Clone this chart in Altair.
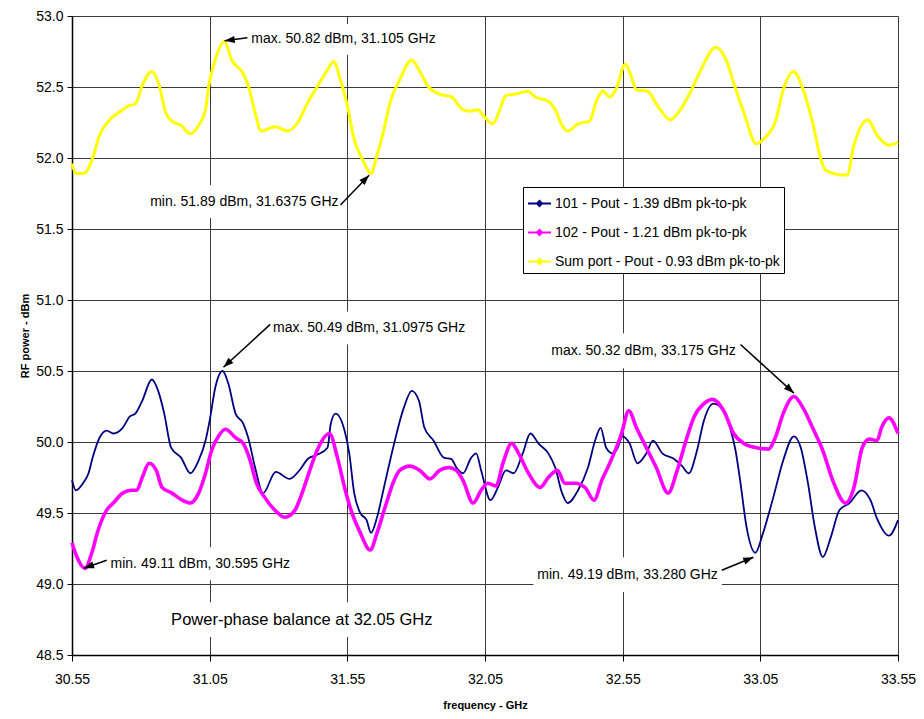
import math
import altair as alt
import pandas as pd

S1 = "101 - Pout - 1.39 dBm pk-to-pk"
S2 = "102 - Pout - 1.21 dBm pk-to-pk"
S3 = "Sum port - Pout - 0.93 dBm pk-to-pk"

# ---- series data ----
f101 = [30.55, 30.564, 30.59, 30.61, 30.625, 30.65, 30.676, 30.70, 30.734, 30.76, 30.78, 30.805, 30.84,
        30.863, 30.885, 30.91, 30.946, 30.98, 31.01, 31.035, 31.05, 31.07, 31.097, 31.118, 31.144, 31.172,
        31.19, 31.215, 31.244, 31.29, 31.34, 31.38, 31.406, 31.44, 31.478, 31.49, 31.507, 31.54, 31.557,
        31.575, 31.597, 31.62, 31.636, 31.658, 31.683, 31.72, 31.755, 31.784, 31.81, 31.83, 31.863, 31.90,
        31.928, 31.946, 31.97, 32.0, 32.018, 32.036, 32.07, 32.097, 32.126, 32.154, 32.187, 32.215, 32.244,
        32.28, 32.305, 32.33, 32.35, 32.388, 32.424, 32.45, 32.47, 32.49, 32.514, 32.53, 32.55, 32.575,
        32.604, 32.636, 32.66, 32.694, 32.737, 32.766, 32.79, 32.82, 32.845, 32.88, 32.917, 32.94, 32.96,
        32.978, 33.0, 33.032, 33.06, 33.097, 33.133, 33.172, 33.197, 33.223, 33.248, 33.277, 33.306, 33.337,
        33.374, 33.417, 33.45, 33.474, 33.517, 33.55]
p101 = [49.73, 49.66, 49.71, 49.78, 49.89, 50.03, 50.08, 50.06, 50.10, 50.18, 50.20, 50.29, 50.44,
        50.36, 50.20, 49.96, 49.89, 49.78, 49.87, 50.01, 50.15, 50.38, 50.50, 50.41, 50.20, 50.13,
        50.03, 49.82, 49.64, 49.79, 49.74, 49.81, 49.88, 49.91, 49.96, 50.13, 50.20, 50.08, 49.92,
        49.64, 49.50, 49.45, 49.36, 49.47, 49.68, 49.99, 50.24, 50.36, 50.29, 50.10, 50.01, 49.89,
        49.88, 49.82, 49.78, 49.89, 49.92, 49.80, 49.59, 49.68, 49.80, 49.78, 49.92, 50.06, 49.99,
        49.92, 49.82, 49.64, 49.57, 49.66, 49.82, 50.01, 50.10, 49.96, 49.92, 49.95, 50.04, 49.99,
        49.85, 49.92, 50.01, 49.92, 49.88, 49.83, 49.78, 49.94, 50.15, 50.27, 50.22, 50.10, 49.94,
        49.71, 49.40, 49.22, 49.36, 49.61, 49.87, 50.04, 49.96, 49.71, 49.40, 49.19, 49.33, 49.52,
        49.57, 49.66, 49.59, 49.46, 49.34, 49.45]

f102 = [30.55, 30.568, 30.597, 30.622, 30.645, 30.676, 30.70, 30.734, 30.766, 30.785, 30.805, 30.83,
        30.856, 30.877, 30.913, 30.95, 30.98, 31.01, 31.035, 31.057, 31.082, 31.107, 31.144, 31.172,
        31.197, 31.22, 31.25, 31.287, 31.323, 31.36, 31.38, 31.417, 31.44, 31.485, 31.514, 31.54, 31.56,
        31.597, 31.633, 31.658, 31.687, 31.72, 31.74, 31.777, 31.813, 31.85, 31.885, 31.917, 31.946,
        31.97, 32.007, 32.036, 32.06, 32.09, 32.115, 32.147, 32.172, 32.208, 32.25, 32.28, 32.313, 32.34,
        32.377, 32.413, 32.446, 32.474, 32.503, 32.546, 32.572, 32.60, 32.636, 32.672, 32.715, 32.748,
        32.78, 32.81, 32.845, 32.877, 32.917, 32.953, 32.99, 33.036, 33.08, 33.104, 33.133, 33.172,
        33.205, 33.24, 33.277, 33.313, 33.36, 33.39, 33.42, 33.446, 33.474, 33.49, 33.517, 33.55]
p102 = [49.29, 49.19, 49.11, 49.22, 49.38, 49.52, 49.57, 49.64, 49.66, 49.66, 49.75, 49.85,
        49.80, 49.68, 49.64, 49.59, 49.57, 49.64, 49.78, 49.94, 50.04, 50.09, 50.03, 49.99,
        49.87, 49.71, 49.61, 49.52, 49.47, 49.52, 49.61, 49.82, 49.94, 50.06, 49.89, 49.68, 49.54,
        49.36, 49.24, 49.36, 49.54, 49.73, 49.80, 49.83, 49.80, 49.74, 49.80, 49.82, 49.80,
        49.73, 49.57, 49.66, 49.71, 49.69, 49.85, 49.99, 49.92, 49.78, 49.68, 49.75, 49.80, 49.71,
        49.71, 49.68, 49.59, 49.73, 49.85, 50.06, 50.22, 50.10, 49.96, 49.82, 49.64, 49.80,
        50.01, 50.18, 50.27, 50.30, 50.22, 50.06, 49.99, 49.96, 49.95, 50.03, 50.20, 50.32,
        50.24, 50.10, 49.94, 49.73, 49.57, 49.68, 49.96, 50.02, 50.01, 50.10, 50.17, 50.06]

fsum = [30.55, 30.565, 30.585, 30.60, 30.625, 30.65, 30.687, 30.72, 30.76, 30.78, 30.805, 30.84, 30.867,
        30.89, 30.913, 30.946, 30.98, 31.01, 31.035, 31.046, 31.07, 31.104, 31.13, 31.17, 31.19, 31.215,
        31.237, 31.287, 31.334, 31.37, 31.406, 31.44, 31.478, 31.50, 31.525, 31.55, 31.575, 31.597,
        31.615, 31.635, 31.658, 31.683, 31.705, 31.74, 31.784, 31.81, 31.845, 31.885, 31.928, 31.97,
        31.993, 32.025, 32.043, 32.079, 32.10, 32.126, 32.16, 32.205, 32.233, 32.28, 32.305, 32.33,
        32.35, 32.388, 32.43, 32.456, 32.478, 32.503, 32.525, 32.56, 32.58, 32.60, 32.64, 32.676,
        32.723, 32.76, 32.80, 32.834, 32.888, 32.928, 32.953, 32.99, 33.036, 33.07, 33.104, 33.133,
        33.172, 33.20, 33.24, 33.27, 33.29, 33.35, 33.365, 33.39, 33.44, 33.474, 33.517, 33.55]
psum = [51.96, 51.89, 51.89, 51.90, 52.00, 52.16, 52.27, 52.32, 52.37, 52.38, 52.51, 52.61, 52.51,
        52.32, 52.26, 52.23, 52.17, 52.23, 52.34, 52.50, 52.69, 52.82, 52.69, 52.60, 52.51, 52.32,
        52.19, 52.22, 52.19, 52.25, 52.39, 52.50, 52.62, 52.68, 52.55, 52.37, 52.13, 52.02,
        51.95, 51.89, 52.02, 52.20, 52.39, 52.55, 52.69, 52.62, 52.50, 52.45, 52.43, 52.34,
        52.33, 52.34, 52.30, 52.24, 52.32, 52.44, 52.45, 52.47, 52.43, 52.40, 52.34, 52.23,
        52.19, 52.24, 52.26, 52.41, 52.47, 52.43, 52.48, 52.66, 52.58, 52.48, 52.47, 52.37,
        52.27, 52.34, 52.48, 52.62, 52.78, 52.68, 52.53, 52.32, 52.10, 52.15, 52.25, 52.48,
        52.61, 52.51, 52.25, 51.99, 51.91, 51.88, 51.88, 52.09, 52.27, 52.16, 52.09, 52.11]

x_ticks = [30.55, 31.05, 31.55, 32.05, 32.55, 33.05, 33.55]
y_ticks = [48.5, 49.0, 49.5, 50.0, 50.5, 51.0, 51.5, 52.0, 52.5, 53.0]

# ---- annotations (data coordinates) ----
ann_text = ["max. 50.82 dBm, 31.105 GHz", "min. 51.89 dBm, 31.6375 GHz", "max. 50.49 dBm, 31.0975 GHz",
            "max. 50.32 dBm, 33.175 GHz", "min. 49.11 dBm, 30.595 GHz", "min. 49.19 dBm, 33.280 GHz"]
box_x1 = [31.187, 30.820, 31.266, 32.277, 30.676, 32.226]
box_x2 = [31.903, 31.528, 31.974, 32.978, 31.363, 32.910]
box_y1 = [52.944, 51.809, 50.919, 50.765, 49.258, 49.188]
box_y2 = [52.727, 51.577, 50.687, 50.519, 49.027, 48.943]
arr_x1 = [31.187, 31.525, 31.270, 32.978, 30.676, 32.910]
arr_y1 = [52.846, 51.669, 50.828, 50.687, 49.167, 49.097]
arr_x2 = [31.104, 31.629, 31.100, 33.172, 30.593, 33.025]
arr_y2 = [52.825, 51.879, 50.526, 50.344, 49.111, 49.188]

note_text = "Power-phase balance at 32.05 GHz"
note_box = [30.892, 31.874, 48.872, 48.627]

W, H = 826, 639
X_DOM = [30.55, 33.55]
Y_DOM = [48.5, 53.0]
PXX = W / (X_DOM[1] - X_DOM[0])
PXY = H / (Y_DOM[1] - Y_DOM[0])

FONT = "Liberation Sans"

rows = []
for name, fs, ps in [(S1, f101, p101), (S2, f102, p102), (S3, fsum, psum)]:
    for f, p in zip(fs, ps):
        rows.append({"series": name, "freq": f, "power": p})
df = pd.DataFrame(rows)

boxes = pd.DataFrame({
    "x1": box_x1 + [note_box[0]], "x2": box_x2 + [note_box[1]],
    "y1": box_y1 + [note_box[2]], "y2": box_y2 + [note_box[3]],
})
labels = pd.DataFrame({
    "tx": [b + 0.014 for b in box_x1],
    "ty": [(a + b) / 2 for a, b in zip(box_y1, box_y2)],
    "text": ann_text,
})
note = pd.DataFrame({"tx": [note_box[0] + 0.018], "ty": [(note_box[2] + note_box[3]) / 2], "text": [note_text]})

angles = []
for xa, ya, xb, yb in zip(arr_x1, arr_y1, arr_x2, arr_y2):
    dx = (xb - xa) * PXX
    dy = -(yb - ya) * PXY
    angles.append(math.degrees(math.atan2(dx, -dy)) % 360)
arrows = pd.DataFrame({"x1": arr_x1, "y1": arr_y1, "x2": arr_x2, "y2": arr_y2, "ang": angles})

xscale = alt.Scale(domain=X_DOM, nice=False, zero=False)
yscale = alt.Scale(domain=Y_DOM, nice=False, zero=False)

xaxis = alt.Axis(values=x_ticks, format=".2f", title="frequency - GHz", grid=True,
                 gridColor="#3a3a3a", gridWidth=1, domainColor="black", domainWidth=1.5,
                 tickColor="black", tickSize=6, labelFontSize=14, labelPadding=11,
                 labelColor="black", labelFont=FONT, titleFont=FONT, titleFontSize=11,
                 titleFontWeight="bold", titlePadding=13, titleColor="black", labelFlush=False)
yaxis = alt.Axis(values=y_ticks, format=".1f", title="RF power - dBm", grid=True,
                 gridColor="#3a3a3a", gridWidth=1, domainColor="black", domainWidth=1.5,
                 tickColor="black", tickSize=5, labelFontSize=14, labelPadding=4,
                 labelColor="black", labelFont=FONT, titleFont=FONT, titleFontSize=11,
                 titleFontWeight="bold", titlePadding=5, titleColor="black", labelFlush=False)

color_scale = alt.Scale(domain=[S1, S2, S3], range=["#000080", "#FF00FF", "#FFFF00"])
legend = alt.Legend(title=None, orient="none", legendX=451, legendY=171, fillColor="white",
                    strokeColor="black", padding=4, labelFontSize=14, labelFont=FONT,
                    labelColor="black", symbolType="M-1,0H1M-0.22,0L0,-0.22L0.22,0L0,0.22Z",
                    symbolSize=529, symbolStrokeWidth=2, rowPadding=9, labelOffset=3,
                    labelLimit=400, cornerRadius=0)

X = alt.X("freq:Q", scale=xscale, axis=xaxis)
Y = alt.Y("power:Q", scale=yscale, axis=yaxis)


def series_layer(name, width):
    return alt.Chart(df).transform_filter(alt.datum.series == name).mark_line(
        strokeWidth=width, interpolate="monotone"
    ).encode(x=X, y=Y, color=alt.Color("series:N", scale=color_scale, legend=legend))


lines = [series_layer(S1, 1.8), series_layer(S2, 3.6), series_layer(S3, 3.0)]

rects = alt.Chart(boxes).mark_rect(fill="white", stroke=None).encode(
    x=alt.X("x1:Q", scale=xscale, axis=xaxis), x2="x2:Q",
    y=alt.Y("y1:Q", scale=yscale, axis=yaxis), y2="y2:Q")

texts = alt.Chart(labels).mark_text(align="left", baseline="middle", fontSize=14, font=FONT,
                                    color="black").encode(
    x=alt.X("tx:Q", scale=xscale, axis=xaxis), y=alt.Y("ty:Q", scale=yscale, axis=yaxis), text="text:N")

note_t = alt.Chart(note).mark_text(align="left", baseline="middle", fontSize=16.5, font=FONT,
                                   color="black").encode(
    x=alt.X("tx:Q", scale=xscale, axis=xaxis), y=alt.Y("ty:Q", scale=yscale, axis=yaxis), text="text:N")

arrow_lines = alt.Chart(arrows).mark_rule(color="black", strokeWidth=1.5).encode(
    x=alt.X("x1:Q", scale=xscale, axis=xaxis), y=alt.Y("y1:Q", scale=yscale, axis=yaxis),
    x2="x2:Q", y2="y2:Q")

arrow_heads = alt.Chart(arrows).mark_point(
    shape="M0,0L-0.6,1.7L0.6,1.7Z", filled=True, color="black", opacity=1, size=144, strokeWidth=0
).encode(x=alt.X("x2:Q", scale=xscale, axis=xaxis), y=alt.Y("y2:Q", scale=yscale, axis=yaxis),
         angle=alt.Angle("ang:Q", scale=None))

chart = alt.layer(*lines, rects, texts, note_t, arrow_lines, arrow_heads).properties(
    width=W, height=H,
    autosize=alt.AutoSizeParams(type="none"),
    padding={"left": 64, "top": 8, "right": 18, "bottom": 62},
).configure_view(fill="#C0C0C0", stroke="#808080", strokeWidth=2).configure(font=FONT)

chart.save("out.html", embed_options={"renderer": "svg", "actions": False})
